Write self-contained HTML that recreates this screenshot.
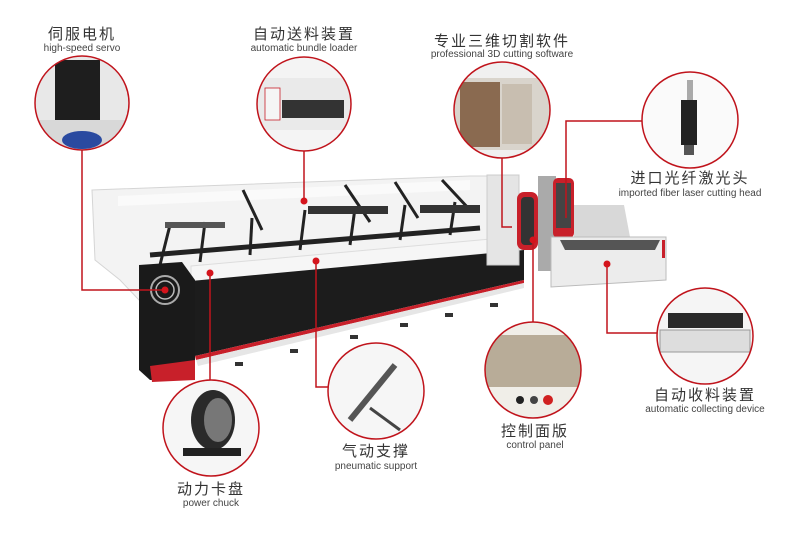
<!DOCTYPE html>
<html><head><meta charset="utf-8"><style>
html,body{margin:0;padding:0;background:#fff;}
svg{display:block}
.cn{font-family:"Liberation Sans","Noto Sans CJK SC",sans-serif;font-size:15px;fill:#333;letter-spacing:2px}
.en{font-family:"Liberation Sans",sans-serif;font-size:10px;fill:#444}
</style></head><body>
<svg width="800" height="533" viewBox="0 0 800 533" xmlns="http://www.w3.org/2000/svg">
<defs>
<clipPath id="c1"><circle cx="82" cy="103" r="47"/></clipPath>
<clipPath id="c2"><circle cx="304" cy="104" r="47"/></clipPath>
<clipPath id="c3"><circle cx="502" cy="110" r="48"/></clipPath>
<clipPath id="c4"><circle cx="690" cy="120" r="48"/></clipPath>
<clipPath id="c5"><circle cx="705" cy="336" r="48"/></clipPath>
<clipPath id="c6"><circle cx="533" cy="370" r="48"/></clipPath>
<clipPath id="c7"><circle cx="376" cy="391" r="48"/></clipPath>
<clipPath id="c8"><circle cx="211" cy="428" r="48"/></clipPath>
</defs>
<rect width="800" height="533" fill="#fff"/>
<!-- machine back / frame -->
<polygon points="92,190 470,176 500,176 500,262 195,300 139,300 120,280 95,260" fill="#f3f3f3" stroke="#d5d5d5"/>
<polygon points="118,196 470,180 470,190 118,206" fill="#fafafa"/>
<!-- interior mechanism -->
<g stroke="#222" stroke-width="3" fill="none">
<line x1="243" y1="190" x2="262" y2="230"/><line x1="345" y1="185" x2="370" y2="222"/>
<line x1="395" y1="182" x2="418" y2="218"/><line x1="442" y1="180" x2="470" y2="210"/>
<line x1="150" y1="255" x2="480" y2="228" stroke-width="5"/>
<line x1="160" y1="265" x2="170" y2="225"/><line x1="200" y1="262" x2="205" y2="222"/>
<line x1="250" y1="255" x2="252" y2="218"/><line x1="300" y1="250" x2="305" y2="210"/>
<line x1="350" y1="245" x2="355" y2="208"/><line x1="400" y1="240" x2="405" y2="205"/>
<line x1="450" y1="235" x2="455" y2="202"/>
</g>
<rect x="308" y="206" width="80" height="8" fill="#333"/>
<rect x="420" y="205" width="60" height="8" fill="#333"/>
<rect x="165" y="222" width="60" height="6" fill="#555"/>
<!-- white rail -->
<polygon points="191,266 524,236 524,250 191,282" fill="#f6f6f6" stroke="#ddd"/>
<!-- front black panel -->
<polygon points="191,281 524,250 524,280 195,356" fill="#1c1c1c"/>
<polygon points="195,356 524,280 524,283 196,360" fill="#c8202a"/>
<polygon points="196,360 524,283 524,288 198,366" fill="#e6e6e6"/>
<!-- feet -->
<g fill="#333"><rect x="235" y="362" width="8" height="4"/><rect x="290" y="349" width="8" height="4"/><rect x="350" y="335" width="8" height="4"/><rect x="400" y="323" width="8" height="4"/><rect x="445" y="313" width="8" height="4"/><rect x="490" y="303" width="8" height="4"/></g>
<!-- left end cap -->
<polygon points="139,265 182,262 195,280 195,380 150,380 139,370" fill="#1a1a1a"/>
<polygon points="150,366 195,360 195,380 152,382" fill="#c8202a"/>
<circle cx="165" cy="290" r="14" fill="none" stroke="#aaa" stroke-width="2"/>
<circle cx="165" cy="290" r="9" fill="none" stroke="#bbb" stroke-width="1.5"/>
<!-- cabin -->
<rect x="487" y="175" width="32" height="90" fill="#e5e5e5" stroke="#ccc"/>
<rect x="538" y="176" width="18" height="95" fill="#aaa"/>
<rect x="517" y="192" width="21" height="58" rx="7" fill="#c8202a"/>
<rect x="521" y="197" width="13" height="48" rx="4" fill="#333"/>
<rect x="553" y="178" width="21" height="60" rx="5" fill="#c8202a"/>
<rect x="556" y="183" width="15" height="45" fill="#444"/>
<!-- collector -->
<polygon points="574,205 624,205 630,237 574,237" fill="#d8d8d8"/>
<polygon points="551,237 666,237 666,280 551,287" fill="#ececec" stroke="#bbb"/>
<polygon points="560,240 660,240 655,250 565,250" fill="#555"/>
<rect x="662" y="240" width="3" height="18" fill="#c8202a"/>
<!-- connectors -->
<g stroke="#c0141c" stroke-width="1.5" fill="none">
<polyline points="82,150 82,290 165,290"/>
<line x1="304" y1="151" x2="304" y2="201"/>
<polyline points="502,158 502,227 512,227"/>
<polyline points="642,121 566,121 566,218"/>
<polyline points="607,264 607,333 657,333"/>
<line x1="533" y1="240" x2="533" y2="322"/>
<polyline points="316,261 316,387 330,387"/>
<line x1="210" y1="273" x2="210" y2="380"/>
</g>
<g fill="#d4141c">
<circle cx="165" cy="290" r="3.5"/><circle cx="304" cy="201" r="3.5"/><circle cx="607" cy="264" r="3.5"/>
<circle cx="533" cy="240" r="3.5"/><circle cx="316" cy="261" r="3.5"/><circle cx="210" cy="273" r="3.5"/>
</g>
<!-- callout circles backgrounds -->
<circle cx="82" cy="103" r="47" fill="#e8e8e8"/>
<circle cx="304" cy="104" r="47" fill="#f4f4f4"/>
<circle cx="502" cy="110" r="48" fill="#f0f0f0"/>
<circle cx="690" cy="120" r="48" fill="#fafafa"/>
<circle cx="705" cy="336" r="48" fill="#f5f5f5"/>
<circle cx="533" cy="370" r="48" fill="#f0eee8"/>
<circle cx="376" cy="391" r="48" fill="#f6f6f6"/>
<circle cx="211" cy="428" r="48" fill="#f6f6f6"/>
<!-- circle contents -->
<g clip-path="url(#c1)"><rect x="55" y="60" width="45" height="80" fill="#1e1e1e"/><rect x="30" y="120" width="100" height="30" fill="#d8d8d8"/><ellipse cx="82" cy="140" rx="20" ry="9" fill="#2a4aa0"/></g>
<g clip-path="url(#c2)"><rect x="257" y="78" width="95" height="52" fill="#eaeaea"/><rect x="265" y="88" width="15" height="32" fill="#f5f5f5" stroke="#c8202a" stroke-width="0.8"/><rect x="282" y="100" width="62" height="18" fill="#333"/></g>
<g clip-path="url(#c3)"><rect x="455" y="78" width="95" height="72" fill="#d9d4cc"/><rect x="460" y="82" width="40" height="65" fill="#8a6a50"/><rect x="502" y="84" width="30" height="60" fill="#c8beb0"/></g>
<g clip-path="url(#c4)"><rect x="687" y="80" width="6" height="22" fill="#aaa"/><rect x="681" y="100" width="16" height="45" fill="#222"/><rect x="684" y="145" width="10" height="10" fill="#555"/></g>
<g clip-path="url(#c5)"><rect x="668" y="313" width="75" height="15" fill="#2a2a2a"/><rect x="660" y="330" width="90" height="22" fill="#ddd" stroke="#999"/></g>
<g clip-path="url(#c6)"><rect x="485" y="335" width="96" height="52" fill="#b8ac98"/><circle cx="520" cy="400" r="4" fill="#222"/><circle cx="534" cy="400" r="4" fill="#444"/><circle cx="548" cy="400" r="5" fill="#d02020"/></g>
<g clip-path="url(#c7)"><line x1="350" y1="420" x2="395" y2="365" stroke="#555" stroke-width="6"/><line x1="370" y1="408" x2="400" y2="430" stroke="#444" stroke-width="3"/></g>
<g clip-path="url(#c8)"><ellipse cx="213" cy="420" rx="22" ry="30" fill="#2a2a2a"/><ellipse cx="218" cy="420" rx="14" ry="22" fill="#777"/><rect x="183" y="448" width="58" height="8" fill="#222"/></g>
<g stroke="#c0141c" stroke-width="1.5" fill="none">
<circle cx="82" cy="103" r="47"/><circle cx="304" cy="104" r="47"/><circle cx="502" cy="110" r="48"/>
<circle cx="690" cy="120" r="48"/><circle cx="705" cy="336" r="48"/><circle cx="533" cy="370" r="48"/>
<circle cx="376" cy="391" r="48"/><circle cx="211" cy="428" r="48"/>
</g>
<!-- labels -->
<g text-anchor="middle">
<text class="cn" x="82" y="39">伺服电机</text><text class="en" x="82" y="51">high-speed servo</text>
<text class="cn" x="304" y="39">自动送料装置</text><text class="en" x="304" y="51">automatic bundle loader</text>
<text class="cn" x="502" y="46">专业三维切割软件</text><text class="en" x="502" y="57">professional 3D cutting software</text>
<text class="cn" x="690" y="183">进口光纤激光头</text><text class="en" x="690" y="196">imported fiber laser cutting head</text>
<text class="cn" x="705" y="400">自动收料装置</text><text class="en" x="705" y="412">automatic collecting device</text>
<text class="cn" x="535" y="436">控制面版</text><text class="en" x="535" y="448">control panel</text>
<text class="cn" x="376" y="456">气动支撑</text><text class="en" x="376" y="469">pneumatic support</text>
<text class="cn" x="211" y="494">动力卡盘</text><text class="en" x="211" y="506">power chuck</text>
</g>
</svg>
</body></html>
